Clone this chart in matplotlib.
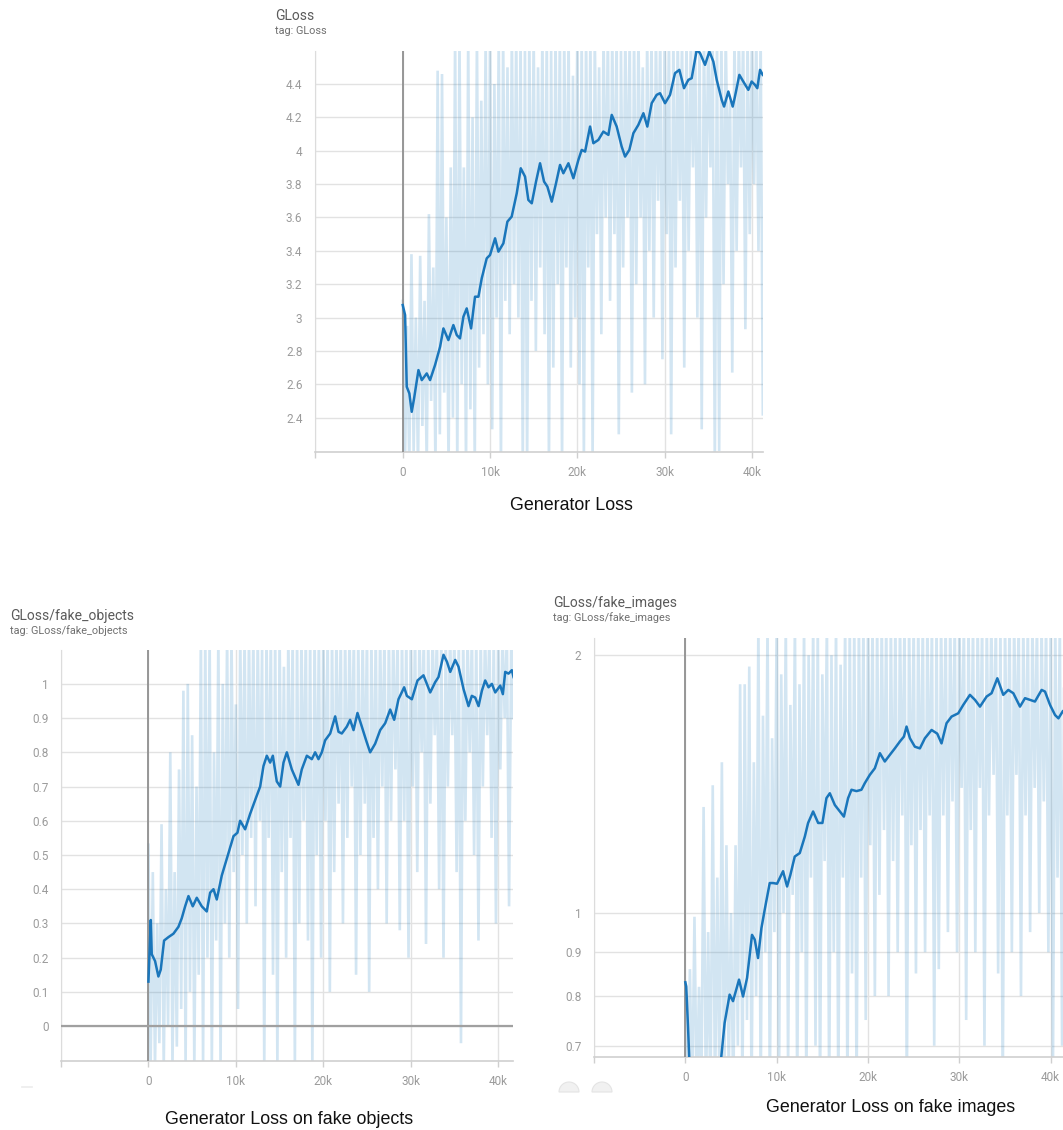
import numpy as np
import matplotlib
matplotlib.use("Agg")
import matplotlib.pyplot as plt
from matplotlib.patches import Wedge
from matplotlib.ticker import NullLocator, NullFormatter

# ---------------- data ----------------
RAW_STEP = 250

x_ticks = [-10000, 0, 10000, 20000, 30000, 40000]
x_tick_labels = ["", "0", "10k", "20k", "30k", "40k"]

# --- GLoss ---
gl_smooth_steps = [0, 270, 460, 760, 1030, 1300, 1800, 2180, 2750, 3130, 3700, 4280, 4660, 5230, 5800,
                   6190, 6560, 6950, 7330, 7830, 8280, 8670, 9050, 9620, 10000, 10580, 10960, 11530,
                   11990, 12480, 13060, 13520, 14010, 14390, 14780, 15270, 15730, 16190, 16570, 17070,
                   17560, 18020, 18400, 18980, 19550, 20120, 20500, 20890, 21460, 21840, 22410, 22980,
                   23560, 23940, 24510, 25080, 25470, 25960, 26420, 26990, 27570, 28020, 28520, 29090,
                   29470, 30050, 30620, 31190, 31690, 32220, 32720, 33100, 33680, 34060, 34630, 35130,
                   35580, 35970, 36540, 36810, 37300, 37800, 38060, 38560, 39010, 39590, 39970, 40350,
                   40620, 40930, 41240]
gl_smooth_vals = [3.075, 3.015, 2.585, 2.545, 2.435, 2.515, 2.685, 2.625, 2.665, 2.625, 2.715, 2.825,
                  2.935, 2.865, 2.955, 2.895, 2.875, 3.005, 3.055, 2.935, 3.125, 3.125, 3.235, 3.355,
                  3.375, 3.475, 3.395, 3.445, 3.575, 3.605, 3.745, 3.895, 3.845, 3.705, 3.685, 3.815,
                  3.925, 3.815, 3.785, 3.695, 3.805, 3.915, 3.865, 3.925, 3.835, 3.945, 4.005, 3.995,
                  4.145, 4.045, 4.065, 4.115, 4.095, 4.215, 4.145, 4.025, 3.965, 4.005, 4.105, 4.155,
                  4.225, 4.145, 4.285, 4.335, 4.345, 4.285, 4.335, 4.465, 4.485, 4.375, 4.425, 4.435,
                  4.605, 4.585, 4.515, 4.595, 4.535, 4.425, 4.305, 4.265, 4.355, 4.265, 4.325, 4.455,
                  4.415, 4.365, 4.415, 4.395, 4.375, 4.485, 4.455]
gl_raw = [3.1, 2.1, 2.95, 2.1, 3.38, 2.2, 3.0, 2.1, 3.37, 2.35, 3.1, 2.1, 3.62, 2.5, 3.3, 2.1,
          4.48, 2.3, 4.46, 2.55, 3.6, 2.1, 3.9, 2.4, 4.7, 2.1, 4.7, 2.6, 3.9, 2.1, 4.7, 2.45,
          4.2, 2.1, 4.7, 2.7, 4.3, 2.9, 4.7, 2.6, 4.7, 2.33, 4.4, 3.0, 4.7, 2.1, 4.7, 3.1,
          4.5, 2.9, 4.7, 3.2, 4.7, 3.0, 4.7, 2.1, 4.6, 2.1, 4.7, 3.1, 4.7, 2.8, 4.5, 3.3,
          4.7, 2.9, 4.7, 2.1, 4.6, 2.7, 4.7, 3.2, 4.7, 2.1, 4.7, 3.3, 4.7, 2.7, 4.45, 3.0,
          4.7, 2.6, 4.7, 2.15, 4.7, 3.3, 4.7, 2.15, 4.7, 3.5, 4.5, 2.9, 4.7, 3.6, 4.7, 3.1,
          4.7, 3.5, 4.7, 2.3, 4.6, 3.3, 4.7, 3.6, 4.7, 2.55, 4.7, 3.2, 4.7, 3.6, 4.5, 2.6,
          4.7, 3.4, 4.7, 3.0, 4.7, 3.7, 4.7, 2.75, 4.7, 3.5, 4.7, 2.3, 4.7, 3.3, 4.7, 3.7,
          4.7, 2.7, 4.7, 3.4, 4.7, 3.9, 4.7, 3.0, 4.7, 2.33, 4.7, 3.6, 4.7, 3.9, 4.7, 2.1,
          4.7, 2.2, 4.7, 3.2, 4.7, 3.8, 4.3, 2.67, 4.7, 3.4, 4.7, 3.9, 4.7, 2.93, 4.7, 3.5,
          4.7, 3.8, 4.7, 3.4, 4.7, 2.42]
gl_yticks = [2.4, 2.6, 2.8, 3.0, 3.2, 3.4, 3.6, 3.8, 4.0, 4.2, 4.4]
gl_ylabels = ["2.4", "2.6", "2.8", "3", "3.2", "3.4", "3.6", "3.8", "4", "4.2", "4.4"]

# --- GLoss/fake_objects ---
fo_smooth_steps = [0, 270, 380, 760, 1140, 1410, 1790, 2290, 2860, 3430, 3810, 4200, 4580, 5070, 5530,
                   6100, 6670, 7060, 7440, 7820, 8390, 9150, 9730, 10180, 10490, 11060, 11630, 12200,
                   12780, 13160, 13540, 13920, 14230, 14680, 15070, 15450, 15830, 16400, 17160, 17540,
                   18120, 18690, 19070, 19450, 19830, 20210, 20790, 21360, 21740, 22120, 22690, 23070,
                   23460, 23910, 24410, 24900, 25360, 25930, 26510, 27080, 27650, 28110, 28600, 29250,
                   29560, 30130, 30780, 31460, 32230, 32800, 33180, 33750, 34140, 34520, 35090, 35470,
                   36040, 36610, 36990, 37380, 37760, 38140, 38520, 38900, 39280, 39670, 40240, 40540,
                   40810, 41190, 41570, 41760]
fo_smooth_vals = [0.13, 0.31, 0.21, 0.19, 0.145, 0.165, 0.25, 0.26, 0.27, 0.29, 0.315, 0.35, 0.38,
                  0.35, 0.375, 0.35, 0.335, 0.39, 0.40, 0.37, 0.44, 0.505, 0.555, 0.565, 0.60, 0.575,
                  0.62, 0.66, 0.70, 0.76, 0.79, 0.77, 0.79, 0.715, 0.70, 0.77, 0.80, 0.75, 0.705,
                  0.75, 0.79, 0.78, 0.80, 0.78, 0.80, 0.835, 0.855, 0.905, 0.86, 0.855, 0.875, 0.895,
                  0.865, 0.915, 0.875, 0.835, 0.80, 0.825, 0.865, 0.885, 0.925, 0.895, 0.955, 0.99,
                  0.965, 0.955, 1.01, 1.025, 0.975, 1.005, 1.02, 1.085, 1.065, 1.035, 1.07, 1.05,
                  0.985, 0.935, 0.965, 0.96, 0.935, 0.98, 1.01, 0.99, 1.0, 0.975, 0.995, 0.97, 1.035,
                  1.03, 1.04, 1.02]
fo_raw = [0.53, -0.12, 0.45, -0.12, 0.3, -0.05, 0.59, -0.12, 0.4, 0.0, 0.8, -0.12, 0.45, -0.06,
          0.75, 0.05, 0.98, -0.12, 1.0, 0.1, 0.85, -0.12, 0.7, 0.15, 1.15, -0.12, 1.15, 0.2,
          1.15, -0.12, 0.8, 0.25, 1.15, -0.12, 1.0, 0.3, 1.15, 0.2, 1.15, 0.45, 0.94, 0.05,
          1.15, 0.5, 1.15, 0.3, 1.15, 0.55, 1.15, 0.35, 1.15, 0.6, 1.1, -0.12, 1.15, 0.55,
          1.15, 0.15, 1.15, -0.12, 1.15, 0.45, 1.05, 0.2, 1.15, 0.55, 1.15, -0.12, 1.15, 0.3,
          1.15, 0.6, 1.15, 0.25, 1.15, -0.12, 1.15, 0.5, 1.15, 0.2, 1.15, 0.6, 1.15, 0.1,
          1.15, 0.45, 1.15, 0.65, 1.15, 0.3, 1.15, 0.55, 1.15, 0.7, 1.15, 0.15, 1.15, 0.5,
          1.15, 0.65, 1.15, 0.1, 1.15, 0.55, 1.15, 0.4, 1.15, 0.7, 1.15, 0.3, 1.15, 0.6,
          1.15, 0.75, 1.15, 0.28, 1.15, 0.6, 1.15, 0.2, 1.15, 0.7, 1.15, 0.45, 1.15, 0.8,
          1.15, 0.24, 1.15, 0.65, 1.15, 0.85, 1.15, 0.4, 1.15, 0.2, 1.15, 0.7, 1.15, 0.85,
          1.15, 0.45, 1.15, -0.05, 1.15, 0.6, 1.15, 0.8, 1.15, 0.5, 1.15, 0.25, 1.15, 0.7,
          1.15, 0.85, 1.15, 0.55, 1.15, 0.3, 1.15, 0.75, 1.15, 0.9, 1.15, 0.35, 1.15, 0.9]
fo_yticks = [0, 0.1, 0.2, 0.3, 0.4, 0.5, 0.6, 0.7, 0.8, 0.9, 1.0]
fo_ylabels = ["0", "0.1", "0.2", "0.3", "0.4", "0.5", "0.6", "0.7", "0.8", "0.9", "1"]

# --- GLoss/fake_images (log axis) ---
fi_smooth_steps = [0, 100, 290, 470, 800, 1500, 2200, 3000, 3600, 3940, 4300, 4850, 5220, 5880, 6320,
                   6760, 7300, 7600, 7960, 8330, 8690, 9240, 9600, 10040, 10700, 11140, 11500, 11980,
                   12530, 13080, 13440, 13990, 14540, 15010, 15450, 15820, 16370, 16920, 17360, 17820,
                   18190, 18740, 19280, 19650, 20200, 20750, 21300, 21840, 22390, 22940, 23490, 23930,
                   24220, 24590, 25130, 25680, 26230, 26960, 27580, 28050, 28600, 29150, 29880, 30430,
                   31160, 31710, 32260, 32990, 33530, 34160, 34810, 35360, 35910, 36640, 37190, 37730,
                   38280, 39010, 39380, 39930, 40480, 40850, 41320]
fi_smooth_vals = [0.83, 0.821, 0.738, 0.66, 0.62, 0.6, 0.6, 0.61, 0.64, 0.68, 0.744, 0.803, 0.789,
                  0.836, 0.799, 0.84, 0.943, 0.931, 0.886, 0.960, 1.009, 1.084, 1.084, 1.082, 1.119,
                  1.074, 1.108, 1.164, 1.175, 1.228, 1.274, 1.314, 1.274, 1.274, 1.362, 1.380, 1.337,
                  1.314, 1.296, 1.362, 1.393, 1.388, 1.393, 1.418, 1.450, 1.476, 1.537, 1.503, 1.530,
                  1.557, 1.586, 1.607, 1.651, 1.600, 1.564, 1.557, 1.600, 1.636, 1.62, 1.578, 1.666,
                  1.696, 1.711, 1.750, 1.798, 1.774, 1.742, 1.79, 1.806, 1.880, 1.798, 1.822, 1.806,
                  1.742, 1.782, 1.774, 1.766, 1.822, 1.814, 1.750, 1.703, 1.688, 1.72]
fi_raw = [0.83, 0.6, 0.86, 0.6, 0.99, 0.6, 0.82, 0.6, 1.33, 0.6, 0.95, 0.6, 1.41, 0.6, 1.1, 0.6,
          1.5, 0.6, 1.2, 0.65, 1.0, 0.6, 1.2, 0.7, 1.85, 0.6, 1.85, 0.75, 1.94, 0.6, 1.5, 0.8,
          2.2, 0.6, 1.7, 0.9, 2.2, 0.6, 1.6, 0.95, 2.2, 0.6, 1.9, 1.0, 2.2, 0.65, 1.75, 1.05,
          2.2, 0.6, 1.85, 0.9, 2.2, 0.6, 2.0, 1.1, 2.2, 0.7, 2.2, 0.6, 1.9, 1.15, 2.2, 0.6,
          2.0, 0.9, 2.2, 0.6, 1.95, 1.1, 2.2, 0.6, 2.2, 0.85, 2.2, 0.6, 2.2, 1.1, 2.2, 0.75,
          2.2, 1.2, 2.2, 0.8, 2.2, 1.05, 2.2, 1.25, 2.2, 0.8, 2.2, 1.15, 2.2, 0.9, 2.2, 1.3,
          2.2, 0.6, 2.2, 1.2, 2.2, 0.85, 2.2, 1.25, 2.2, 0.9, 2.2, 1.3, 2.2, 0.7, 2.2, 0.86,
          2.2, 1.3, 2.2, 0.95, 2.2, 1.35, 2.2, 0.9, 2.2, 1.4, 2.2, 0.75, 2.2, 1.25, 2.2, 0.9,
          2.2, 1.4, 2.2, 0.7, 2.2, 1.3, 2.2, 1.45, 2.2, 0.85, 2.2, 0.6, 2.2, 1.3, 2.2, 0.9,
          2.2, 1.45, 2.2, 0.8, 2.2, 1.3, 2.2, 0.95, 2.2, 1.4, 2.2, 1.0, 2.2, 1.35, 2.2, 0.9,
          2.2, 0.65, 2.2, 1.1, 2.2, 0.7, 2.2, 1.2]
fi_yticks = [0.7, 0.8, 0.9, 1.0, 2.0]
fi_ylabels = ["0.7", "0.8", "0.9", "1", "2"]

titles = ["GLoss", "GLoss/fake_objects", "GLoss/fake_images"]
captions = ["Generator Loss", "Generator Loss on fake objects", "Generator Loss on fake images"]

# ---------------- styling ----------------
W, H = 1063, 1130
DARK = "#1a76bb"
TICK_FONT = ["Roboto", "DejaVu Sans"]
CAP_FONT = ["Liberation Sans", "DejaVu Sans"]

fig = plt.figure(figsize=(W / 100, H / 100), dpi=100)


def px_axes(left, top, right, bottom):
    return fig.add_axes([left / W, 1 - bottom / H, (right - left) / W, (bottom - top) / H])


def draw_panel(ax, smooth_steps, smooth_vals, raw, yticks, ylabels, xlim, ylim, log=False, zero_h=False):
    raw_steps = np.arange(len(raw)) * RAW_STEP
    ax.plot(raw_steps, raw, color="#1f7fc0", alpha=0.2, lw=1.9, zorder=2, solid_joinstyle="miter")
    ax.plot(smooth_steps, smooth_vals, color=DARK, lw=1.8, zorder=4)
    if log:
        ax.set_yscale("log")
    ax.set_xlim(*xlim)
    ax.set_ylim(*ylim)
    ax.set_xticks(x_ticks)
    ax.set_xticklabels(x_tick_labels)
    ax.set_yticks(yticks)
    ax.set_yticklabels(ylabels)
    ax.yaxis.set_minor_locator(NullLocator())
    ax.yaxis.set_minor_formatter(NullFormatter())
    ax.grid(True, color="#e2e2e2", lw=1.0, zorder=0)
    ax.set_axisbelow(True)
    for s in ["top", "right"]:
        ax.spines[s].set_visible(False)
    ax.spines["left"].set_color("#dcdcdc")
    ax.spines["bottom"].set_color("#cfcfcf")
    ax.spines["bottom"].set_linewidth(1.2)
    ax.tick_params(axis="y", length=0, pad=9, labelsize=8.5, labelcolor="#9b9b9b")
    ax.tick_params(axis="x", length=4, width=1, color="#cfcfcf", pad=6, labelsize=8.5, labelcolor="#9b9b9b")
    for lab in ax.get_xticklabels() + ax.get_yticklabels():
        lab.set_fontfamily(TICK_FONT)
    ax.axvline(0, color="#8f8f8f", lw=1.3, zorder=3)
    if zero_h:
        ax.axhline(0, color="#a0a0a0", lw=1.6, zorder=3)


# top panel
ax1 = px_axes(315, 51, 763, 452)
draw_panel(ax1, gl_smooth_steps, gl_smooth_vals, gl_raw, gl_yticks, gl_ylabels,
           (-10050, 41270), (2.194, 4.598))
# bottom left
ax2 = px_axes(61, 650, 513, 1061)
draw_panel(ax2, fo_smooth_steps, fo_smooth_vals, fo_raw, fo_yticks, fo_ylabels,
           (-10000, 41700), (-0.102, 1.099), zero_h=True)
# bottom right
ax3 = px_axes(594, 638, 1063, 1057)
draw_panel(ax3, fi_smooth_steps, fi_smooth_vals, fi_raw, fi_yticks, fi_ylabels,
           (-10000, 41350), (0.679, 2.095), log=True)

# titles
for (x, y1, y2), t in zip([(275, 16, 31), (10, 616, 631), (553, 603, 618)], titles):
    fig.text(x / W, 1 - y1 / H, t, fontsize=10, color="#5a5a5a", family=TICK_FONT, va="center", ha="left")
    fig.text(x / W, 1 - y2 / H, "tag: " + t, fontsize=7.8, color="#6f6f6f", family=TICK_FONT, va="center", ha="left")

# captions
for (x, y), c in zip([(571, 506), (289, 1120), (891, 1108)], captions):
    fig.text(x / W, 1 - y / H, c, fontsize=12.9, color="#111111", family=CAP_FONT, va="center", ha="center")

# faint UI remnants at the bottom of the bottom panels (only their upper halves show)
for cx in (569, 602):
    fig.add_artist(Wedge((cx, H - 1092), 10, 0, 180, transform=None,
                         facecolor="#f1f1f1", edgecolor="#e4e4e4", lw=0.8))
fig.add_artist(plt.Line2D([22 / W, 32 / W], [1 - 1087 / H, 1 - 1087 / H], color="#ececec", lw=1.2))

fig.savefig("out.png", dpi=100, facecolor="white")
